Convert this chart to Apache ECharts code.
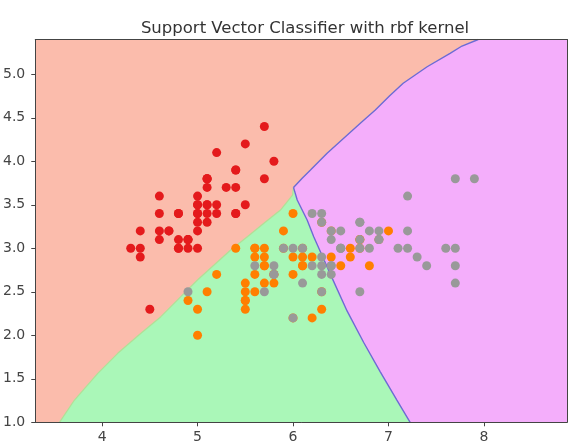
<!DOCTYPE html>
<html>
<head>
<meta charset="utf-8">
<script src="https://cdn.jsdelivr.net/npm/echarts@6/dist/echarts.min.js"></script>
<style>
html,body{margin:0;padding:0;background:#fff;}
#chart{width:569px;height:448px;}
</style>
</head>
<body>
<div id="chart"></div>
<script>
// ---- Data ----
const titleText = 'Support Vector Classifier with rbf kernel';
const xTicks = [4, 5, 6, 7, 8];
const yTicks = [1.0, 1.5, 2.0, 2.5, 3.0, 3.5, 4.0, 4.5, 5.0];
const xRange = [3.3, 8.87];
const yRange = [1.0, 5.4];

// Iris sepal length / sepal width per class
const setosa = [[5.1,3.5],[4.9,3.0],[4.7,3.2],[4.6,3.1],[5.0,3.6],[5.4,3.9],[4.6,3.4],[5.0,3.4],[4.4,2.9],[4.9,3.1],
  [5.4,3.7],[4.8,3.4],[4.8,3.0],[4.3,3.0],[5.8,4.0],[5.7,4.4],[5.4,3.9],[5.1,3.5],[5.7,3.8],[5.1,3.8],
  [5.4,3.4],[5.1,3.7],[4.6,3.6],[5.1,3.3],[4.8,3.4],[5.0,3.0],[5.0,3.4],[5.2,3.5],[5.2,3.4],[4.7,3.2],
  [4.8,3.1],[5.4,3.4],[5.2,4.1],[5.5,4.2],[4.9,3.1],[5.0,3.2],[5.5,3.5],[4.9,3.1],[4.4,3.0],[5.1,3.4],
  [5.0,3.5],[4.5,2.3],[4.4,3.2],[5.0,3.5],[5.1,3.8],[4.8,3.0],[5.1,3.8],[4.6,3.2],[5.3,3.7],[5.0,3.3]];
const versicolor = [[7.0,3.2],[6.4,3.2],[6.9,3.1],[5.5,2.3],[6.5,2.8],[5.7,2.8],[6.3,3.3],[4.9,2.4],[6.6,2.9],[5.2,2.7],
  [5.0,2.0],[5.9,3.0],[6.0,2.2],[6.1,2.9],[5.6,2.9],[6.7,3.1],[5.6,3.0],[5.8,2.7],[6.2,2.2],[5.6,2.5],
  [5.9,3.2],[6.1,2.8],[6.3,2.5],[6.1,2.8],[6.4,2.9],[6.6,3.0],[6.8,2.8],[6.7,3.0],[6.0,2.9],[5.7,2.6],
  [5.5,2.4],[5.5,2.4],[5.8,2.7],[6.0,2.7],[5.4,3.0],[6.0,3.4],[6.7,3.1],[6.3,2.3],[5.6,3.0],[5.5,2.5],
  [5.5,2.6],[6.1,3.0],[5.8,2.6],[5.0,2.3],[5.6,2.7],[5.7,3.0],[5.7,2.9],[6.2,2.9],[5.1,2.5],[5.7,2.8]];
const virginica = [[6.3,3.3],[5.8,2.7],[7.1,3.0],[6.3,2.9],[6.5,3.0],[7.6,3.0],[4.9,2.5],[7.3,2.9],[6.7,2.5],[7.2,3.6],
  [6.5,3.2],[6.4,2.7],[6.8,3.0],[5.7,2.5],[5.8,2.8],[6.4,3.2],[6.5,3.0],[7.7,3.8],[7.7,2.6],[6.0,2.2],
  [6.9,3.2],[5.6,2.8],[7.7,2.8],[6.3,2.7],[6.7,3.3],[7.2,3.2],[6.2,2.8],[6.1,3.0],[6.4,2.8],[7.2,3.0],
  [7.4,2.8],[7.9,3.8],[6.4,2.8],[6.3,2.8],[6.1,2.6],[7.7,3.0],[6.3,3.4],[6.4,3.1],[6.0,3.0],[6.9,3.1],
  [6.7,3.1],[6.9,3.1],[5.8,2.7],[6.8,3.2],[6.7,3.3],[6.7,3.0],[6.3,2.5],[6.5,3.0],[6.2,3.4],[5.9,3.0]];

// Decision boundaries, in data coordinates
const boundaryRedGreen = [[3.554,1.0],[3.711,1.256],[3.955,1.563],[4.164,1.793],[4.407,2.023],[4.616,2.214],
  [4.825,2.444],[4.999,2.636],[5.173,2.808],[5.347,2.981],[5.522,3.133],[5.695,3.287],[5.869,3.44],[5.995,3.61],[6.005,3.70]];
const boundaryRedPink = [[6.005,3.70],[6.096,3.805],[6.183,3.90],[6.357,4.092],[6.531,4.264],[6.705,4.437],
  [6.862,4.59],[7.01,4.75],[7.154,4.897],[7.405,5.087],[7.645,5.241],[7.77,5.325],[7.94,5.40]];
const boundaryGreenPink = [[6.005,3.70],[6.044,3.555],[6.148,3.325],[6.217,3.133],[6.287,2.96],[6.392,2.70],
  [6.566,2.28],[6.739,1.92],[6.914,1.58],[7.088,1.256],[7.227,1.0]];

// ---- Build region polygons ----
const X0 = xRange[0], X1 = xRange[1], Y0 = yRange[0], Y1 = yRange[1];
const regionRed = [[X0,Y0]].concat(boundaryRedGreen, boundaryRedPink.slice(1), [[X0,Y1]]);
const regionGreen = boundaryRedGreen.concat(boundaryGreenPink.slice(1));
const regionPink = boundaryRedPink.concat([[X1,Y1],[X1,Y0]], boundaryGreenPink.slice(1).reverse());
const regions = [regionRed, regionGreen, regionPink];
const regionColors = ['#FBBCAC', '#AAF7B8', '#F4AEFB'];

const chart = echarts.init(document.getElementById('chart'), null, {renderer: 'canvas'});
const axisColor = '#444';
const gridPos = {left: 34, right: 2, top: 39.5, bottom: 25.7};

chart.setOption({
  animation: false,
  backgroundColor: '#fff',
  title: {
    text: titleText, left: 300, top: 15, textAlign: 'center',
    textStyle: {fontFamily: 'DejaVu Sans', fontSize: 16.5, fontWeight: 'normal', color: '#333'}
  },
  grid: Object.assign({containLabel: false, show: false}, gridPos),
  xAxis: [{
    type: 'value', min: X0, max: X1, position: 'bottom', z: 10,
    splitLine: {show: false},
    axisLine: {show: true, onZero: false, lineStyle: {color: axisColor, width: 1}},
    axisTick: {show: true, customValues: xTicks, length: 4, lineStyle: {color: axisColor}},
    axisLabel: {customValues: xTicks, margin: 8, fontFamily: 'DejaVu Sans', fontSize: 14, color: '#444',
      formatter: v => String(v)}
  }, {
    type: 'value', min: X0, max: X1, position: 'top', z: 10,
    splitLine: {show: false},
    axisLine: {show: true, onZero: false, lineStyle: {color: axisColor, width: 1}},
    axisTick: {show: false}, axisLabel: {show: false}
  }],
  yAxis: [{
    type: 'value', min: Y0, max: Y1, position: 'left', z: 10,
    splitLine: {show: false},
    axisLine: {show: true, onZero: false, lineStyle: {color: axisColor, width: 1}},
    axisTick: {show: true, customValues: yTicks, length: 4, lineStyle: {color: axisColor}},
    axisLabel: {customValues: yTicks, margin: 10, fontFamily: 'DejaVu Sans', fontSize: 14, color: '#444',
      formatter: v => v.toFixed(1)}
  }, {
    type: 'value', min: Y0, max: Y1, position: 'right', z: 10,
    splitLine: {show: false},
    axisLine: {show: true, onZero: false, lineStyle: {color: axisColor, width: 1}},
    axisTick: {show: false}, axisLabel: {show: false}
  }],
  series: [
    {
      type: 'custom', clip: true, silent: true, z: 1,
      data: regions.map((r, i) => [i]),
      encode: {x: -1, y: -1},
      renderItem: function (params, api) {
        const pts = regions[params.dataIndex].map(p => api.coord(p));
        return {
          type: 'polygon', shape: {points: pts},
          style: {fill: regionColors[params.dataIndex], stroke: regionColors[params.dataIndex], lineWidth: 0.8}
        };
      }
    },
    {type: 'line', data: boundaryRedGreen, showSymbol: false, silent: true, z: 2,
      lineStyle: {color: '#B4DE96', width: 1.2}},
    {type: 'line', data: boundaryRedPink, showSymbol: false, silent: true, z: 2,
      lineStyle: {color: '#6C6CD2', width: 1.4}},
    {type: 'line', data: boundaryGreenPink, showSymbol: false, silent: true, z: 2,
      lineStyle: {color: '#6C6CD2', width: 1.4}},
    {type: 'scatter', data: setosa, symbolSize: 9, z: 3, itemStyle: {color: '#e41a1c', opacity: 1}},
    {type: 'scatter', data: versicolor, symbolSize: 9, z: 3, itemStyle: {color: '#ff7f00', opacity: 1}},
    {type: 'scatter', data: virginica, symbolSize: 9, z: 3, itemStyle: {color: '#999999', opacity: 1}}
  ]
});
</script>
</body>
</html>
